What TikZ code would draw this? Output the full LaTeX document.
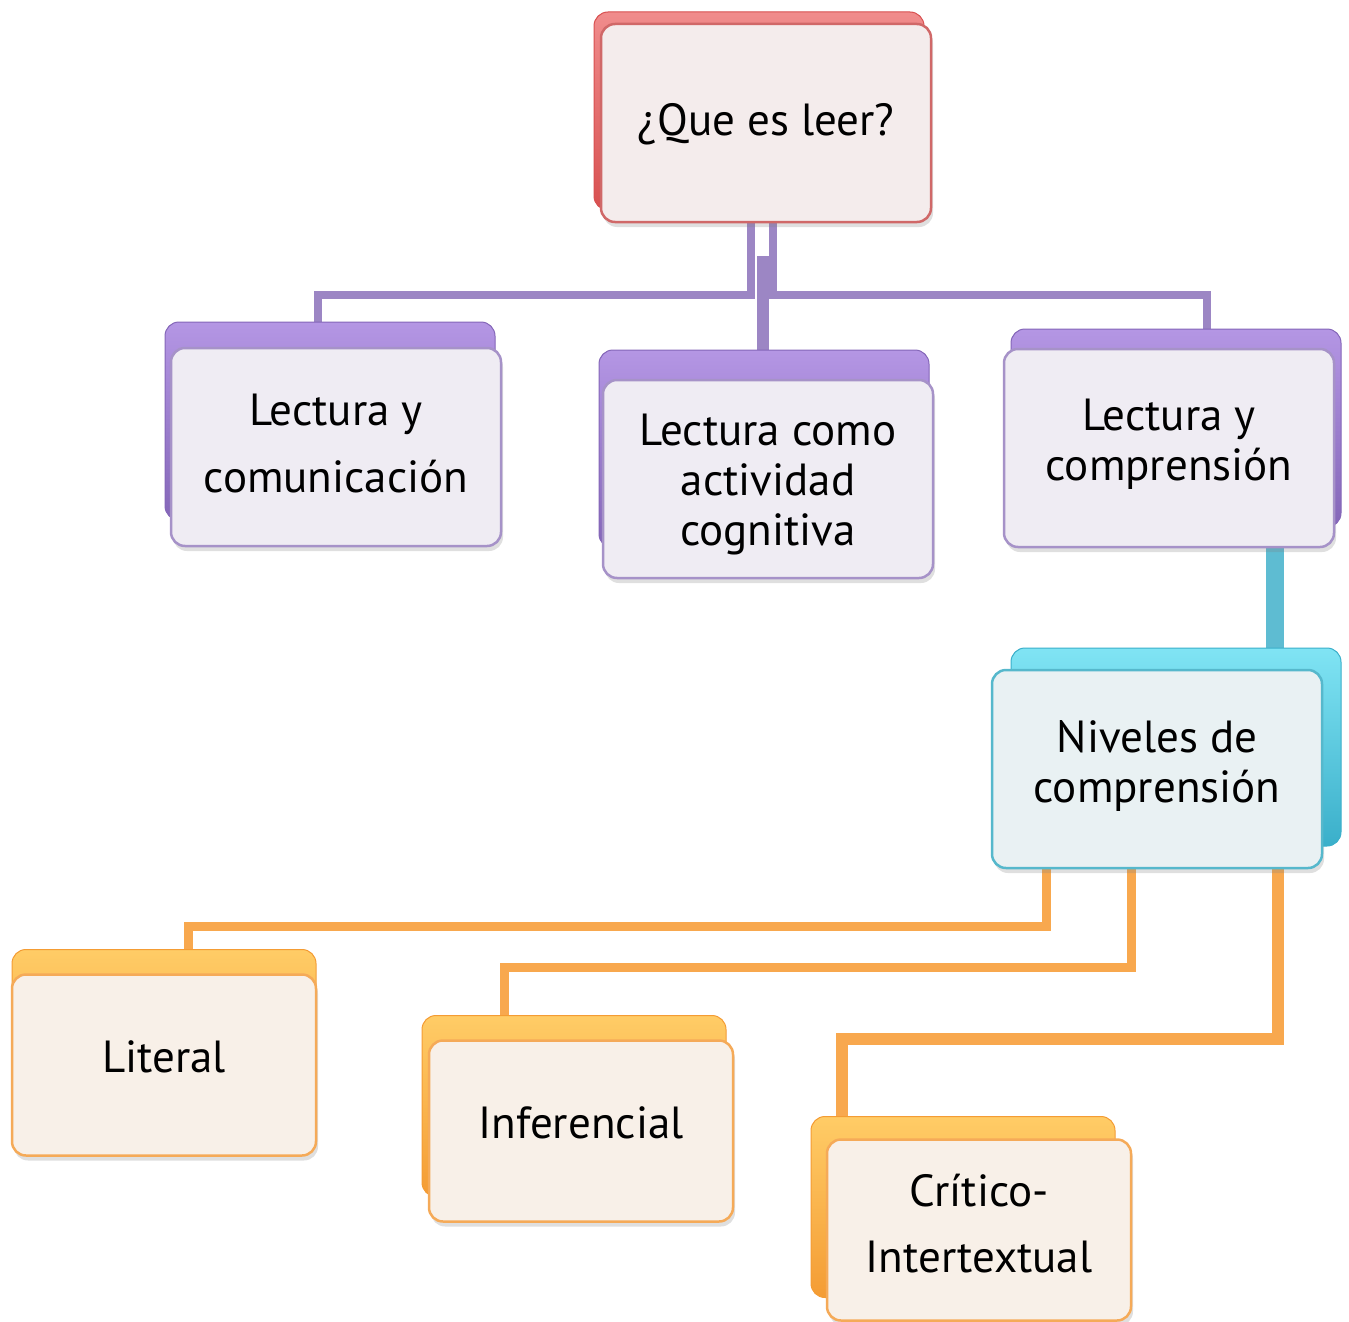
\documentclass[tikz,border=0pt]{standalone}
\usepackage{fontspec}
\setmainfont{PT Sans}
\usetikzlibrary{shadows}
\pgfdeclarelayer{background}
\pgfsetlayers{background,main}
\newcommand\mybt[2]{\raisebox{#1}[0pt][0pt]{\begin{tabular}{@{}c@{}}#2\end{tabular}}}
\definecolor{redtop}{HTML}{F08C8C}
\definecolor{redbot}{HTML}{D85050}
\definecolor{redline}{HTML}{D06868}
\definecolor{redfill}{HTML}{F4ECEC}
\definecolor{purtop}{HTML}{B496E4}
\definecolor{purbot}{HTML}{8466B8}
\definecolor{purline}{HTML}{A692C8}
\definecolor{purfill}{HTML}{EFECF3}
\definecolor{purcon}{HTML}{9C86C4}
\definecolor{cyatop}{HTML}{80E4F4}
\definecolor{cyabot}{HTML}{3AAFCA}
\definecolor{cyaline}{HTML}{56B8CC}
\definecolor{cyafill}{HTML}{E9F1F3}
\definecolor{cyacon}{HTML}{5EBCD2}
\definecolor{oratop}{HTML}{FFCC66}
\definecolor{orabot}{HTML}{F49C34}
\definecolor{oraline}{HTML}{F5AA58}
\definecolor{orafill}{HTML}{F8F0E8}
\definecolor{oracon}{HTML}{F8A84E}
\begin{document}
\begin{tikzpicture}[x=1pt,y=-1pt,
  box/.style={rounded corners=14pt, line width=2.5pt, inner sep=0pt,
    font=\fontsize{45}{50}\selectfont,
    drop shadow={opacity=0.25, shadow xshift=2pt, shadow yshift=-5pt}},
  bigbox/.style={box, minimum width=330pt, minimum height=198pt},
  smallbox/.style={box, minimum width=304pt, minimum height=181pt},
  redbox/.style={draw=redline, fill=redfill},
  purbox/.style={draw=purline, fill=purfill},
  cyabox/.style={draw=cyaline, fill=cyafill},
  orabox/.style={draw=oraline, fill=orafill},
  redback/.style 2 args={copy shadow={shadow xshift=#1, shadow yshift=#2, top color=redtop, bottom color=redbot, draw=redbot, line width=1pt}},
  purback/.style 2 args={copy shadow={shadow xshift=#1, shadow yshift=#2, top color=purtop, bottom color=purbot, draw=purbot, line width=1pt}},
  cyaback/.style 2 args={copy shadow={shadow xshift=#1, shadow yshift=#2, top color=cyatop, bottom color=cyabot, draw=cyabot, line width=1pt}},
  oraback/.style 2 args={copy shadow={shadow xshift=#1, shadow yshift=#2, top color=oratop, bottom color=orabot, draw=orabot, line width=1pt}},
  purlink/.style={draw=purcon, line width=8pt},
  cyalink/.style={draw=cyacon, line width=18pt},
  oralink/.style={draw=oracon, line width=9pt},
]
\useasboundingbox (0,0) rectangle (1349,1322);

\node[bigbox, redbox, redback={-7pt}{12pt}] (top) at (766,123) {\mybt{-9pt}{¿Que es leer?}};

\node[bigbox, purbox, purback={-6pt}{26pt}, font=\fontsize{45}{67}\selectfont] (b1) at (336,447) {\mybt{-5pt}{Lectura y\\comunicación}};
\node[bigbox, purbox, purback={-4pt}{30pt}] (b2) at (768,479) {\mybt{-13pt}{Lectura como\\actividad\\cognitiva}};
\node[bigbox, purbox, purback={7pt}{20pt}] (b3) at (1169,448) {\mybt{-4pt}{Lectura y\\comprensión}};

\node[bigbox, cyabox, cyaback={19pt}{22pt}] (b4) at (1157,769) {\mybt{-5pt}{Niveles de\\comprensión}};

\node[smallbox, orabox, oraback={0pt}{25pt}] (lit) at (164,1065) {\mybt{-4pt}{Literal}};
\node[smallbox, orabox, oraback={-7pt}{25pt}] (inf) at (581,1131) {\mybt{-4pt}{Inferencial}};
\node[smallbox, orabox, oraback={-16pt}{23pt}, font=\fontsize{45}{66}\selectfont] (cri) at (979,1230) {\mybt{-3pt}{Crítico-\\Intertextual}};

\begin{pgfonlayer}{background}
  \draw[purlink] ([xshift=-15pt]top.south) -- ++(0,72) -| ([xshift=-18pt]b1.north);
  \draw[purlink] ([xshift=7pt]top.south) -- ++(0,72) -| ([xshift=38pt]b3.north);
  \draw[purlink, line width=12pt] ([xshift=-3pt,yshift=-33pt]top.south) -- ([xshift=-3pt]top.south |- b2.north);
  \draw[cyalink] ([xshift=106pt]b3.south) -- ([xshift=106pt]b3.south |- b4.north);
  \draw[oralink] ([xshift=-111pt]b4.south) -- ++(0,57) -| ([xshift=24pt]lit.north);
  \draw[oralink] ([xshift=-26pt]b4.south) -- ++(0,98) -| ([xshift=-77pt]inf.north);
  \draw[oralink, line width=12pt] ([xshift=121pt]b4.south) -- ++(0,170) -| ([xshift=-137pt]cri.north);
\end{pgfonlayer}
\end{tikzpicture}
\end{document}
